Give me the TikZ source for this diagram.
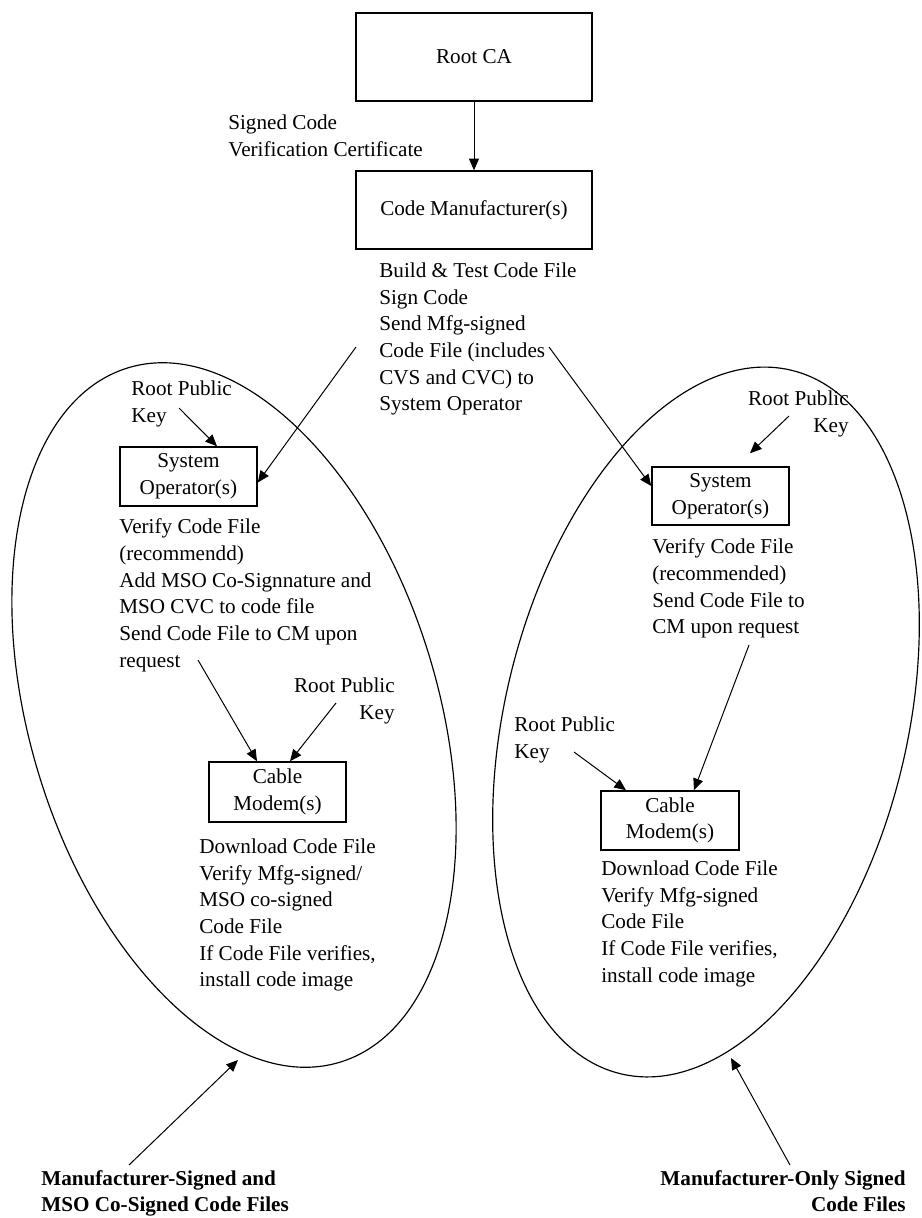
\documentclass[tikz,border=0pt]{standalone}
\usepackage{fontspec}
\setmainfont{Liberation Serif}
\usetikzlibrary{arrows.meta,calc}
\begin{document}
\begin{tikzpicture}[x=0.6pt,y=-0.6pt,
  every node/.style={font=\fontsize{12.7pt}{16pt}\selectfont},
  box/.style={draw,line width=0.9pt,align=center,inner sep=0pt},
  txt/.style={anchor=north west,inner sep=0pt,align=left},
  txtr/.style={anchor=north east,inner sep=0pt,align=right},
  arr/.style={-{Triangle[length=7pt,width=6pt]},line width=0.6pt},
  oval/.style={line width=0.7pt}]
\useasboundingbox (0,0) rectangle (922,1218);

% ellipses
\draw[oval,rotate around={17:(234,715)}] (234,715) ellipse [x radius=204, y radius=363];
\draw[oval,rotate around={-13.7:(706,722)}] (706,722) ellipse [x radius=201, y radius=362];

% boxes
\node[box,minimum width=141.6pt,minimum height=52.8pt] (rootca) at (474,57) {Root CA};
\node[box,minimum width=141.6pt,minimum height=46.8pt] (mfr) at (474,210) {Code Manufacturer(s)};
\node[box,minimum width=82.2pt,minimum height=35.4pt] (so1) at (188.5,476.5) {System\\Operator(s)};
\node[box,minimum width=82.2pt,minimum height=34.8pt] (so2) at (720.5,496) {System\\Operator(s)};
\node[box,minimum width=82.2pt,minimum height=36pt] (cm1) at (277.5,792) {Cable\\Modem(s)};
\node[box,minimum width=82.8pt,minimum height=35.4pt] (cm2) at (670,820.5) {Cable\\Modem(s)};

% texts
\node[txt] (scvc) at (228,114.5) {Signed Code\\Verification Certificate};
\node[txt] (mfrtxt) at (379,262.5) {Build \& Test Code File\\Sign Code\\Send Mfg-signed\\Code File (includes\\CVS and CVC) to\\System Operator};
\node[txt] (rpk1) at (131,380.5) {Root Public\\Key};
\node[txtr] (rpk2) at (849,390.5) {Root Public\\Key};
\node[txt] (so1txt) at (119,518.5) {Verify Code File\\(recommendd)\\Add MSO Co-Signnature and\\MSO CVC to code file\\Send Code File to CM upon\\request};
\node[txt] (so2txt) at (652,538.5) {Verify Code File\\(recommended)\\Send Code File to\\CM upon request};
\node[txtr] (rpk3) at (395,677.5) {Root Public\\Key};
\node[txt] (rpk4) at (514,716.5) {Root Public\\Key};
\node[txt] (cm1txt) at (199,838.5) {Download Code File\\Verify Mfg-signed/\\MSO co-signed\\Code File\\If Code File verifies,\\install code image};
\node[txt] (cm2txt) at (601,860.5) {Download Code File\\Verify Mfg-signed\\Code File\\If Code File verifies,\\install code image};
\node[txt,font=\fontsize{12.7pt}{16pt}\selectfont\bfseries] (lab1) at (41,1170) {Manufacturer-Signed and\\MSO Co-Signed Code Files};
\node[txtr,font=\fontsize{12.7pt}{16pt}\selectfont\bfseries] (lab2) at (906,1170) {Manufacturer-Only Signed\\Code Files};

% free ends
\coordinate (s1) at (356,347);
\coordinate (s2) at (549,347);
\coordinate (r1) at (179,408);
\coordinate (r2) at (789,416);
\coordinate (r3) at (336,703);
\coordinate (r4) at (574,752);
\coordinate (q1) at (198,660);
\coordinate (q2) at (749,645);
\coordinate (b1) at (129,1165);
\coordinate (b2) at (790,1165);
\coordinate (e1) at (238,1060);
\coordinate (e2) at (731,1058);

% connectors
\draw[arr] (rootca) -- (mfr);
\draw[arr] (s1) -- ($(so1.east)+(0,6)$);
\draw[arr] (s2) -- ($(so2.west)+(0,-10)$);
\draw[arr] (r1) -- ($(so1.north)+(28.5,0)$);
\draw[arr] (r2) -- ($(so2.north)+(29.5,-13)$);
\draw[arr] (q1) -- ($(cm1.north)+(-20.5,0)$);
\draw[arr] (r3) -- ($(cm1.north)+(12.5,0)$);
\draw[arr] (q2) -- ($(cm2.north)+(24,0)$);
\draw[arr] (r4) -- ($(cm2.north)+(-44,0)$);
\draw[arr] (b1) -- (e1);
\draw[arr] (b2) -- (e2);
\end{tikzpicture}
\end{document}
